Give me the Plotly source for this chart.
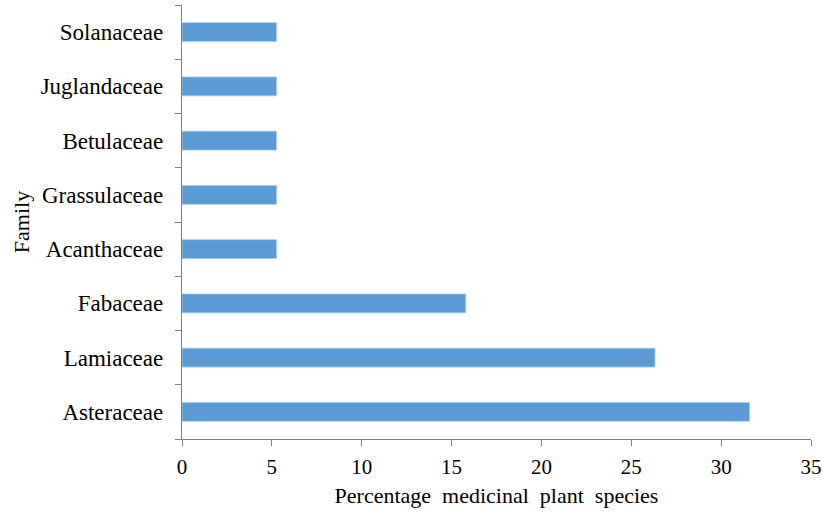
import plotly.graph_objects as go

families = ["Asteraceae", "Lamiaceae", "Fabaceae", "Acanthaceae", "Grassulaceae",
            "Betulaceae", "Juglandaceae", "Solanaceae"]
percentages = [31.58, 26.32, 15.79, 5.26, 5.26, 5.26, 5.26, 5.26]
x_ticks = [0, 5, 10, 15, 20, 25, 30, 35]

FONT = "Liberation Serif, Times New Roman, serif"
AXIS = "#7F7F7F"

fig = go.Figure(go.Bar(
    x=percentages, y=families, orientation="h", width=0.35,
    marker=dict(color="#5B9BD5", line=dict(color="#A9CBEA", width=0.8)),
))

fig.update_layout(
    width=823, height=513,
    margin=dict(l=182, r=12, t=5, b=74),
    plot_bgcolor="white", paper_bgcolor="white",
    font=dict(family=FONT, size=22, color="#000000"),
    showlegend=False,
    xaxis=dict(
        range=[0, 35], tickvals=x_ticks, ticktext=[str(v) for v in x_ticks],
        showgrid=False, zeroline=False, showline=True, linecolor=AXIS, linewidth=1.3,
        ticks="outside", ticklen=6, tickcolor=AXIS, tickwidth=1.3, automargin=False,
        tickfont=dict(family=FONT, size=21), ticklabelstandoff=3,
        title=dict(text="Percentage  medicinal  plant  species", font=dict(family=FONT, size=22), standoff=9),
    ),
    yaxis=dict(
        categoryorder="array", categoryarray=families,
        showgrid=False, zeroline=False, showline=True, linecolor=AXIS, linewidth=1.3,
        ticks="outside", ticklen=6, tickcolor=AXIS, tickwidth=1.3, tickson="boundaries",
        automargin=False,
        tickfont=dict(family=FONT, size=23), ticklabelstandoff=13,
        title=dict(text="Family", font=dict(family=FONT, size=22), standoff=4),
    ),
)

fig.write_html("out.html", config={"displayModeBar": False},
               post_script="document.body.style.margin='0';")
